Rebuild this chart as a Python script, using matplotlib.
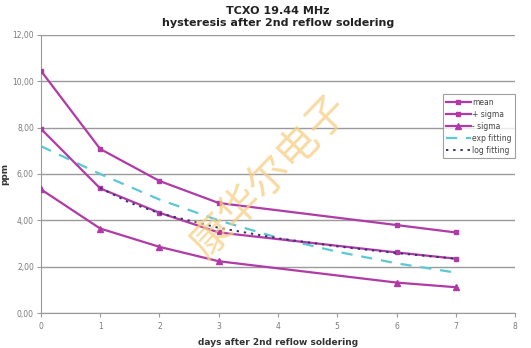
import matplotlib.pyplot as plt
from matplotlib.ticker import MultipleLocator, FuncFormatter

# measurement days and drift in ppm
days = [0, 1, 2, 3, 6, 7]
mean = [7.95, 5.38, 4.33, 3.48, 2.62, 2.35]
plus_sigma = [10.45, 7.08, 5.70, 4.75, 3.80, 3.48]
minus_sigma = [5.34, 3.65, 2.86, 2.24, 1.32, 1.12]

# fitted curves
fit_days = [0, 1, 2, 3, 4, 5, 6, 7]
exp_fit = [7.20, 6.00, 4.90, 4.00, 3.25, 2.65, 2.15, 1.75]
log_days = [1, 1.5, 2, 3, 4, 5, 6, 7]
log_fit = [5.40, 4.76, 4.31, 3.68, 3.23, 2.88, 2.59, 2.35]

x_ticks = [0, 1, 2, 3, 4, 5, 6, 7, 8]

magenta = '#b13ba6'

fig = plt.figure(figsize=(5.31, 3.48), dpi=100)
ax = fig.add_axes([0.077, 0.100, 0.893, 0.800])

ax.plot(days, mean, color=magenta, lw=1.6, marker='s', ms=3.5, label='mean', zorder=3)
ax.plot(days, plus_sigma, color=magenta, lw=1.6, marker='s', ms=3.5, label='+ sigma', zorder=3)
ax.plot(days, minus_sigma, color=magenta, lw=1.6, marker='^', ms=4, label='- sigma', zorder=3)
ax.plot(fit_days, exp_fit, color='#5cc8d4', lw=1.6, ls=(0, (5, 4)), label='exp fitting', zorder=2)
ax.plot(log_days, log_fit, color='#3a2f6e', lw=1.4, ls=(0, (1.2, 2.5)), label='log fitting', zorder=4)

ax.set_xlim(0, 8)
ax.set_ylim(0, 12)
ax.set_xticks(x_ticks)
ax.yaxis.set_major_locator(MultipleLocator(2))
ax.yaxis.set_major_formatter(FuncFormatter(lambda v, p: f'{v:.2f}'.replace('.', ',')))
ax.grid(axis='y', color='#9a9a9a', lw=1.0)
ax.set_axisbelow(True)
for s in ['top', 'right']:
    ax.spines[s].set_visible(False)
for s in ['left', 'bottom']:
    ax.spines[s].set_color('#9a9a9a')
ax.tick_params(colors='#9a9a9a', labelcolor='#7a7a7a', labelsize=5.5, length=3, width=0.8)
ax.tick_params(axis='y', pad=2)

ax.set_title('TCXO 19.44 MHz\nhysteresis after 2nd reflow soldering',
             fontsize=8, fontweight='bold', color='#222222', pad=6, linespacing=1.3)
ax.set_xlabel('days after 2nd reflow soldering', fontsize=6.5, fontweight='bold',
              color='#333333', labelpad=5)
ax.set_ylabel('ppm', fontsize=6.5, fontweight='bold', color='#333333', labelpad=2)

leg = ax.legend(loc='upper right', bbox_to_anchor=(1.008, 0.80), fontsize=5.5,
                frameon=True, fancybox=False, handlelength=3.2, handletextpad=0.2,
                labelspacing=0.4, borderpad=0.45, labelcolor='#444444')
leg.get_frame().set_edgecolor('#888888')
leg.get_frame().set_linewidth(0.8)

# watermark
fig.text(0.51, 0.49, '康华尔电子', fontsize=30, rotation=46,
         ha='center', va='center', color='#f6cf85', alpha=0.75,
         family=['Noto Sans CJK SC', 'DejaVu Sans'], zorder=10)

fig.savefig('out.png', dpi=100)
